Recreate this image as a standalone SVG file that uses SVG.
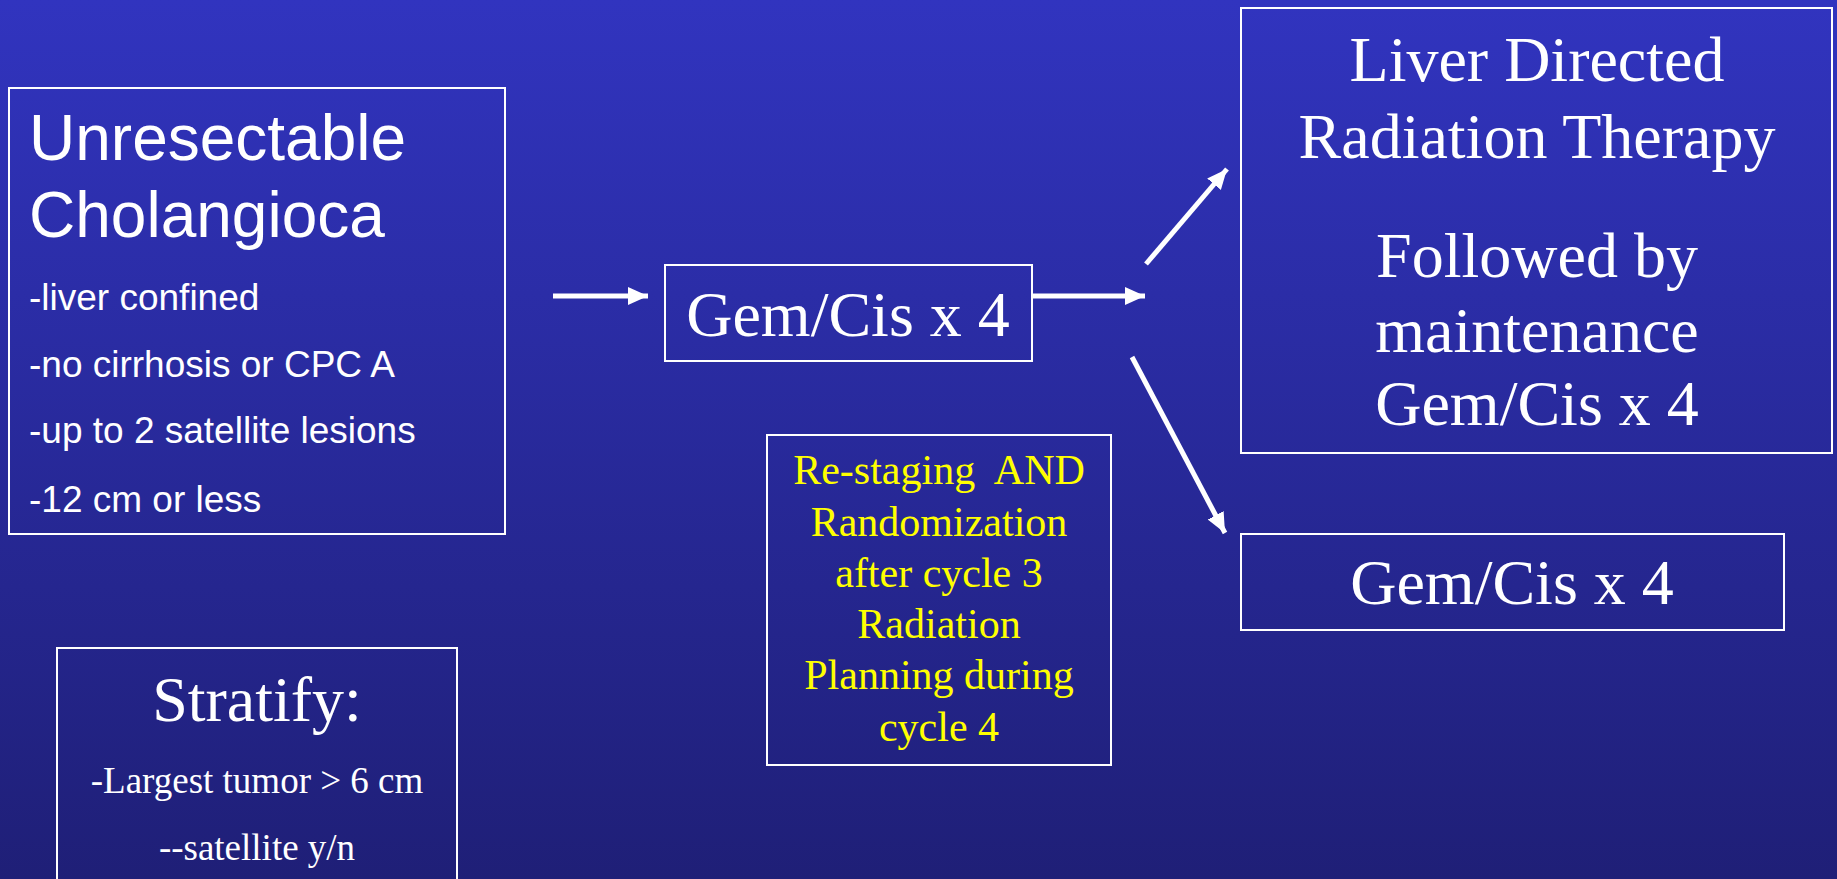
<svg xmlns="http://www.w3.org/2000/svg" width="1837" height="879" viewBox="0 0 1837 879">
<defs>
<linearGradient id="bg" x1="0" y1="0" x2="0" y2="1">
<stop offset="0" stop-color="#3134BF"/>
<stop offset="1" stop-color="#1F1F77"/>
</linearGradient>
<marker id="ah" markerUnits="userSpaceOnUse" markerWidth="22" markerHeight="20" refX="20" refY="9" orient="auto">
<path d="M0,0 L20,9 L0,18 Z" fill="#fff"/>
</marker>
<style>
.box{fill:none;stroke:#fff;stroke-width:2}
.sans{font-family:"Liberation Sans",Arial,sans-serif;fill:#fff}
.serif{font-family:"Liberation Serif","Times New Roman",serif;fill:#fff;text-anchor:middle}
.yel{fill:#FFFF00}
.conn{stroke:#fff;stroke-width:5;fill:none;marker-end:url(#ah)}
</style>
</defs>
<rect width="1837" height="879" fill="url(#bg)"/>
<g id="unresectable">
<rect class="box" x="9" y="88" width="496" height="446"/>
<text class="sans" font-size="64" x="29" y="160">Unresectable</text>
<text class="sans" font-size="64" x="29" y="237">Cholangioca</text>
<text class="sans" font-size="37" x="29" y="310">-liver confined</text>
<text class="sans" font-size="37" x="29" y="377">-no cirrhosis or CPC A</text>
<text class="sans" font-size="37" x="29" y="443">-up to 2 satellite lesions</text>
<text class="sans" font-size="37" x="29" y="512">-12 cm or less</text>
</g>
<g id="gemcis-induction">
<rect class="box" x="665" y="265" width="367" height="96"/>
<text class="serif" font-size="64" x="848" y="336">Gem/Cis x 4</text>
</g>
<g id="restaging">
<rect class="box" x="767" y="435" width="344" height="330"/>
<text class="serif yel" font-size="42" x="939" y="484" xml:space="preserve">Re-staging  AND</text>
<text class="serif yel" font-size="42" x="939" y="536">Randomization</text>
<text class="serif yel" font-size="42" x="939" y="587">after cycle 3</text>
<text class="serif yel" font-size="42" x="939" y="638">Radiation</text>
<text class="serif yel" font-size="42" x="939" y="689">Planning during</text>
<text class="serif yel" font-size="42" x="939" y="741">cycle 4</text>
</g>
<g id="radiation-arm">
<rect class="box" x="1241" y="8" width="591" height="445"/>
<text class="serif" font-size="64" x="1537" y="81">Liver Directed</text>
<text class="serif" font-size="64" x="1537" y="158">Radiation Therapy</text>
<text class="serif" font-size="64" x="1537" y="277">Followed by</text>
<text class="serif" font-size="64" x="1537" y="352">maintenance</text>
<text class="serif" font-size="64" x="1537" y="425">Gem/Cis x 4</text>
</g>
<g id="chemo-arm">
<rect class="box" x="1241" y="534" width="543" height="96"/>
<text class="serif" font-size="64" x="1512" y="604">Gem/Cis x 4</text>
</g>
<g id="stratify">
<rect class="box" x="57" y="648" width="400" height="260"/>
<text class="serif" font-size="64" x="257" y="721">Stratify:</text>
<text class="serif" font-size="37" x="257" y="793">-Largest tumor &gt; 6 cm</text>
<text class="serif" font-size="37" x="257" y="860">--satellite y/n</text>
</g>
<g id="connectors">
<line class="conn" x1="553" y1="296" x2="648" y2="296"/>
<line class="conn" x1="1033" y1="296" x2="1145" y2="296"/>
<line class="conn" x1="1146" y1="264" x2="1227" y2="169"/>
<line class="conn" x1="1132" y1="357" x2="1225" y2="533"/>
</g>
</svg>
